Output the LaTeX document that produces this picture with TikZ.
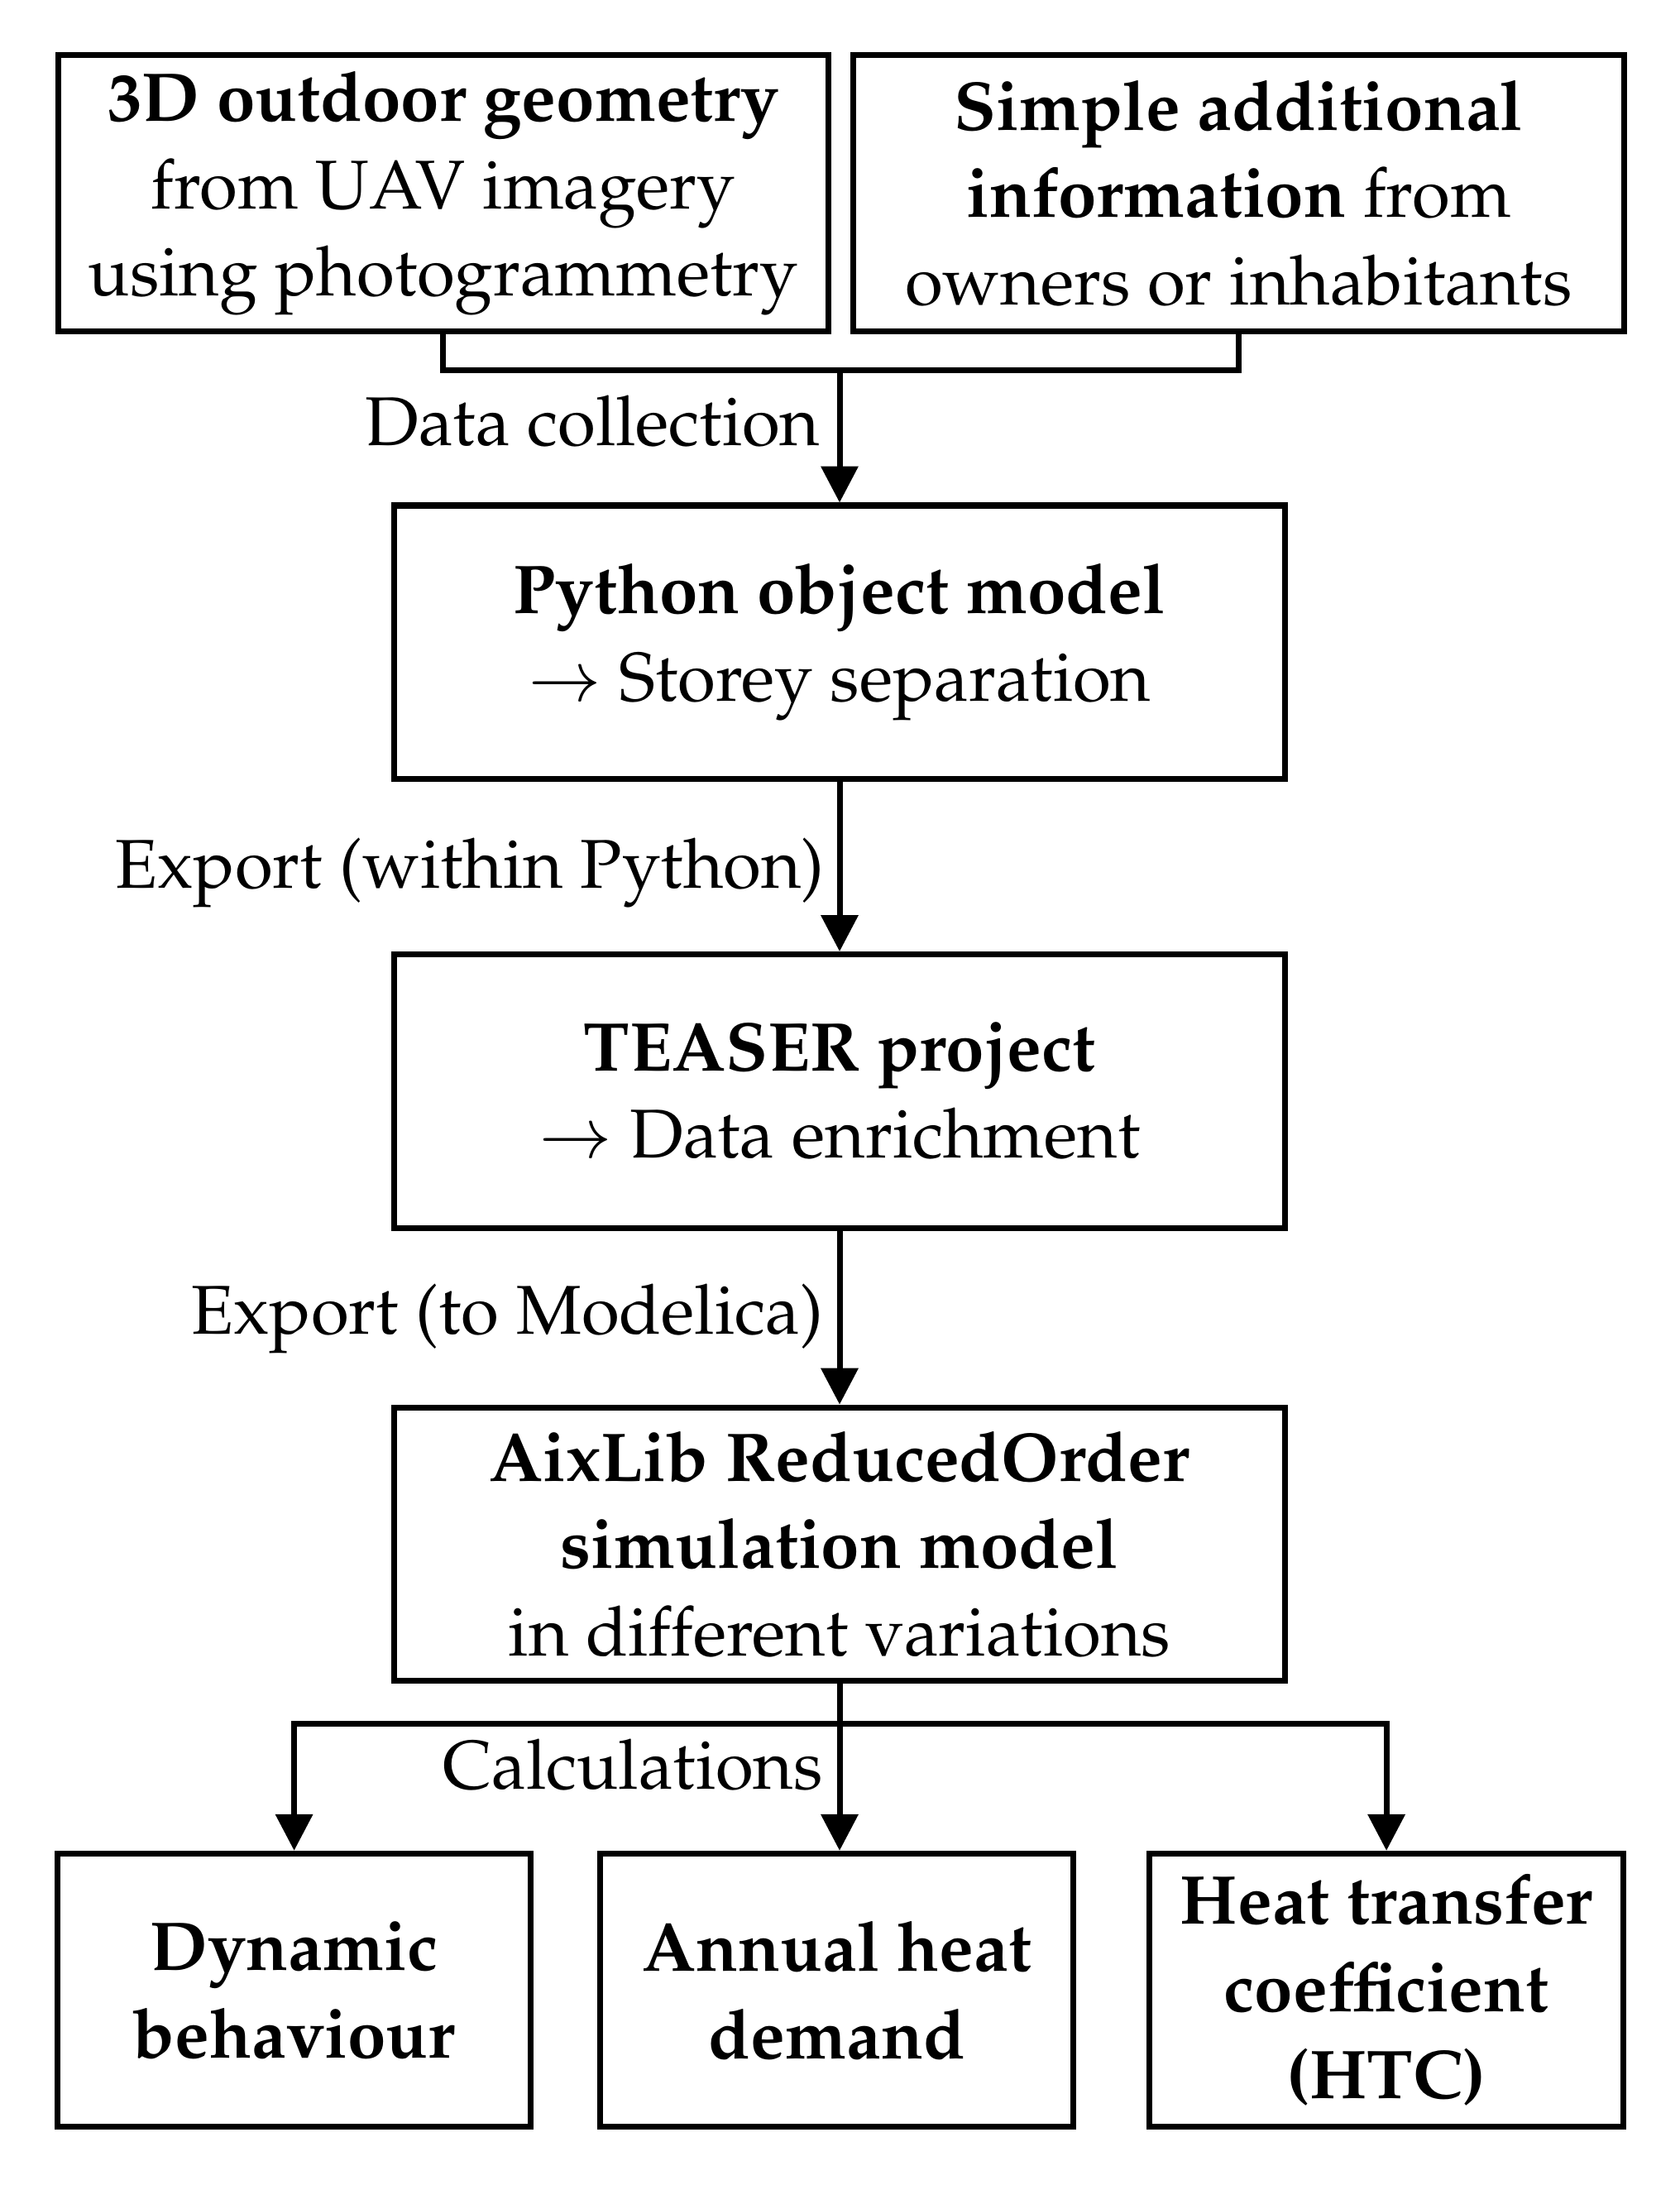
\documentclass[tikz,border=0pt]{standalone}
\usepackage[T1]{fontenc}
\usepackage{mathpazo}
\usetikzlibrary{arrows.meta}
\tikzset{
  box/.style={draw, line width=0.8pt, align=center, inner sep=0pt,
    font=\fontsize{9.5}{12}\selectfont},
  link/.style={line width=0.8pt, -{Triangle[length=5pt,width=5pt]}},
  lab/.style={anchor=east, inner sep=0pt, font=\fontsize{9.5}{12}\selectfont}
}
\begin{document}
\begin{tikzpicture}[x=0.19pt,y=-0.19pt]
\useasboundingbox (0,0) rectangle (1216,1582);

% sources
\node[box, minimum width=558*0.19pt, minimum height=200*0.19pt] (geom) at (321,140)
  {\textbf{3D outdoor geometry}\\from UAV imagery\\using photogrammetry};
\node[box, minimum width=558*0.19pt, minimum height=200*0.19pt] (info) at (897,140)
  {\textbf{Simple additional}\\\textbf{information} from\\owners or inhabitants};

% chain
\node[box, minimum width=645*0.19pt, minimum height=198*0.19pt] (pyom) at (608,465)
  {\textbf{Python object model}\\$\rightarrow$ Storey separation};
\node[box, minimum width=645*0.19pt, minimum height=198*0.19pt] (teaser) at (608,790)
  {\textbf{TEASER project}\\$\rightarrow$ Data enrichment};
\node[box, minimum width=645*0.19pt, minimum height=198*0.19pt] (aix) at (608,1118)
  {\textbf{AixLib ReducedOrder}\\\textbf{simulation model}\\in different variations};

% results
\node[box, font=\fontsize{9.5}{12}\selectfont\bfseries, minimum width=343*0.19pt, minimum height=198*0.19pt] (dyn) at (213,1441)
  {Dynamic\\behaviour};
\node[box, font=\fontsize{9.5}{12}\selectfont\bfseries, minimum width=343*0.19pt, minimum height=198*0.19pt] (annual) at (606,1441)
  {Annual heat\\demand};
\node[box, font=\fontsize{9.5}{12}\selectfont\bfseries, minimum width=343*0.19pt, minimum height=198*0.19pt] (htc) at (1004,1441)
  {Heat transfer\\coefficient\\(HTC)};

\coordinate (join) at (608,268);
\coordinate (split) at (608,1248);

\draw[line width=0.8pt] (geom.south) |- (join) -| (info.south);
\draw[link] (join) -- (pyom.north);
\draw[link] (pyom.south) -- (teaser.north);
\draw[link] (teaser.south) -- (aix.north);
\draw[link] (aix.south) -- (annual.north -| aix.south);
\draw[link] (split) -| (dyn.north);
\draw[link] (split) -| (htc.north);

\node[lab] (lcol) at (595,305) {Data collection};
\node[lab] (lpy) at (598,632) {Export (within Python)};
\node[lab] (lmod) at (597,955) {Export (to Modelica)};
\node[lab] (lcalc) at (597,1278) {Calculations};
\end{tikzpicture}
\end{document}
